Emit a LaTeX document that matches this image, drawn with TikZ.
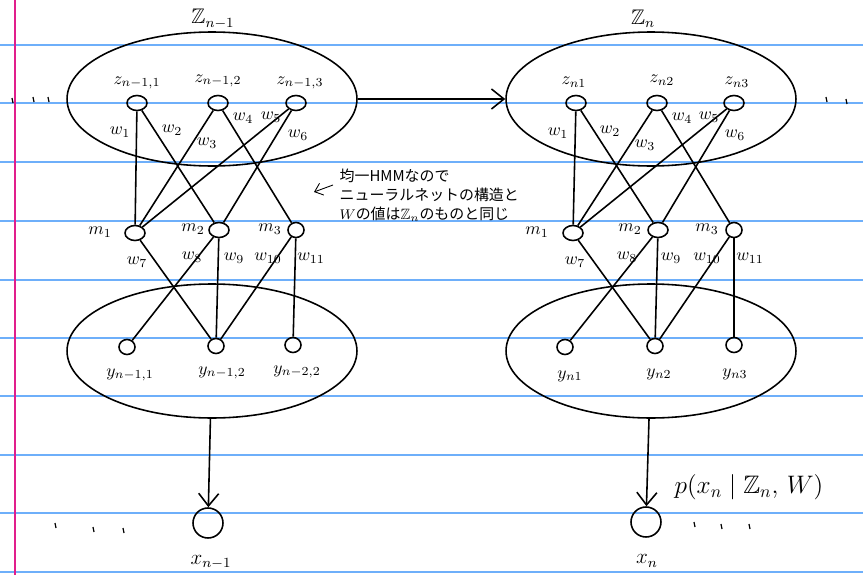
\documentclass[tikz,border=0pt]{standalone}
\usepackage{amssymb}
\usepackage{fontspec}
\newfontfamily\jp{Noto Sans CJK JP}
\usetikzlibrary{shapes.geometric,arrows.meta}
\definecolor{rule}{RGB}{110,175,250}
\definecolor{margin}{RGB}{225,30,140}
\begin{document}
\begin{tikzpicture}[x=0.02cm,y=-0.02cm,line width=0.9pt]
    \tikzstyle{unit}=[ellipse,draw,inner sep=0pt,minimum width=0.4cm,minimum height=0.3cm]
    \tikzstyle{layer}=[ellipse,draw,inner sep=0pt,minimum width=5.8cm,minimum height=2.68cm]
    \tikzstyle{obs}=[circle,draw,inner sep=0pt,minimum size=0.6cm]
    \tikzstyle{lab}=[font=\normalsize,inner sep=1pt]
    \tikzstyle{wt}=[font=\normalsize,inner sep=0pt]
    \tikzstyle{flow}=[-{Straight Barb[length=2.5mm,width=4mm]}]
    \useasboundingbox (0,0) rectangle (863,575);
    % ruled paper
    \foreach \r in {45,103,162,221,280,338,396,455,513,572}
        \draw[rule,line width=0.9pt] (0,\r) -- (863,\r);
    \draw[margin,line width=0.8pt] (15,0) -- (15,575);
    % hidden layer sets
    \node[layer] (Zl) at (212,99) {};
    \node[layer] (Zr) at (651,99) {};
    \node[layer] (Yl) at (212,351) {};
    \node[layer] (Yr) at (651,351) {};
    \node[font=\large] at (213,19) {$\mathbb{Z}_{n-1}$};
    \node[font=\large] at (643,19) {$\mathbb{Z}_{n}$};
    % left network
    \node[unit] (lz1) at (137,103) {};
    \node[unit] (lz2) at (218,103) {};
    \node[unit] (lz3) at (296,103) {};
    \node[unit] (lm1) at (135,233) {};
    \node[unit] (lm2) at (219,230) {};
    \node[unit,minimum width=0.32cm] (lm3) at (296,230) {};
    \node[unit,minimum width=0.32cm] (ly1) at (127,347) {};
    \node[unit,minimum width=0.32cm] (ly2) at (216,346) {};
    \node[unit,minimum width=0.32cm] (ly3) at (293,345) {};
    \node[lab] at (137,83) {$z_{n-1,1}$};
    \node[lab] at (218,81) {$z_{n-1,2}$};
    \node[lab] at (300,83) {$z_{n-1,3}$};
    \node[lab] at (100,232) {$m_1$};
    \node[lab] at (193,229) {$m_2$};
    \node[lab] at (270,229) {$m_3$};
    \node[lab] at (130,375) {$y_{n-1,1}$};
    \node[lab] at (222,373) {$y_{n-1,2}$};
    \node[lab] at (297,372) {$y_{n-2,2}$};
    \draw (lz1) -- (lm1);
    \draw (lz1) -- (lm2);
    \draw (lz2) -- (lm1);
    \draw (lz2) -- (lm3);
    \draw (lz3) -- (lm1);
    \draw (lz3) -- (lm2);
    \draw (lm1) -- (ly2);
    \draw (lm2) -- (ly1);
    \draw (lm2) -- (ly2);
    \draw (lm3) -- (ly2);
    \draw (lm3) -- (ly3);
    \node[wt] at (120,132) {$w_1$};
    \node[wt] at (172,130) {$w_2$};
    \node[wt] at (207,143) {$w_3$};
    \node[wt] at (243,118) {$w_4$};
    \node[wt] at (271,117) {$w_5$};
    \node[wt] at (298,135) {$w_6$};
    \node[wt] at (137,262) {$w_7$};
    \node[wt] at (192,257) {$w_8$};
    \node[wt] at (234,258) {$w_9$};
    \node[wt] at (268,258) {$w_{10}$};
    \node[wt] at (311,258) {$w_{11}$};
    % right network
    \node[unit] (rz1) at (576,103) {};
    \node[unit] (rz2) at (657,103) {};
    \node[unit] (rz3) at (734,103) {};
    \node[unit] (rm1) at (573,233) {};
    \node[unit] (rm2) at (658,230) {};
    \node[unit,minimum width=0.32cm] (rm3) at (734,230) {};
    \node[unit,minimum width=0.32cm] (ry1) at (565,347) {};
    \node[unit,minimum width=0.32cm] (ry2) at (655,346) {};
    \node[unit,minimum width=0.32cm] (ry3) at (734,345) {};
    \node[lab] at (574,82) {$z_{n1}$};
    \node[lab] at (662,80) {$z_{n2}$};
    \node[lab] at (737,82) {$z_{n3}$};
    \node[lab] at (537,232) {$m_1$};
    \node[lab] at (630,229) {$m_2$};
    \node[lab] at (707,229) {$m_3$};
    \node[lab] at (570,376) {$y_{n1}$};
    \node[lab] at (659,374) {$y_{n2}$};
    \node[lab] at (735,374) {$y_{n3}$};
    \draw (rz1) -- (rm1);
    \draw (rz1) -- (rm2);
    \draw (rz2) -- (rm1);
    \draw (rz2) -- (rm3);
    \draw (rz3) -- (rm1);
    \draw (rz3) -- (rm2);
    \draw (rm1) -- (ry2);
    \draw (rm2) -- (ry1);
    \draw (rm2) -- (ry2);
    \draw (rm3) -- (ry2);
    \draw (rm3) -- (ry3);
    \node[wt] at (558,133) {$w_1$};
    \node[wt] at (610,131) {$w_2$};
    \node[wt] at (645,145) {$w_3$};
    \node[wt] at (682,118) {$w_4$};
    \node[wt] at (709,117) {$w_5$};
    \node[wt] at (735,135) {$w_6$};
    \node[wt] at (575,262) {$w_7$};
    \node[wt] at (627,257) {$w_8$};
    \node[wt] at (671,258) {$w_9$};
    \node[wt] at (707,258) {$w_{10}$};
    \node[wt] at (750,258) {$w_{11}$};
    % observations
    \node[obs] (xl) at (208,523) {};
    \node[obs] (xr) at (646,522) {};
    \node[font=\large] at (211,562) {$x_{n-1}$};
    \node[font=\large] at (647,561) {$x_{n}$};
    \draw[flow] (Zl) -- (Zr);
    \draw[flow] (Yl) -- (xl);
    \draw[flow] (Yr) -- (xr);
    \node[font=\Large,anchor=west] (px) at (668,487) {$p(x_n \mid \mathbb{Z}_n,\, W)$};
    % note
    \node[font=\jp\fontsize{8.5}{11}\selectfont,align=left,anchor=west] (note) at (333,195)
        {均一HMMなので\\ニューラルネットの構造と\\$W$の値は$\mathbb{Z}_n$のものと同じ};
    \coordinate (tip) at (314,192);
    \draw[-{Straight Barb[length=1.5mm,width=2.5mm]},line width=0.5pt] (note.west) ++(0,-10) -- (tip);
    % ellipsis marks
    \foreach \px/\py in {12/98,33/97,48/97,826/97,846/99,55/523,93/527,123/528,694/522,721/524,749/524}
        \draw[line width=0.7pt] (\px,\py) -- ++(1,5);
\end{tikzpicture}
\end{document}
